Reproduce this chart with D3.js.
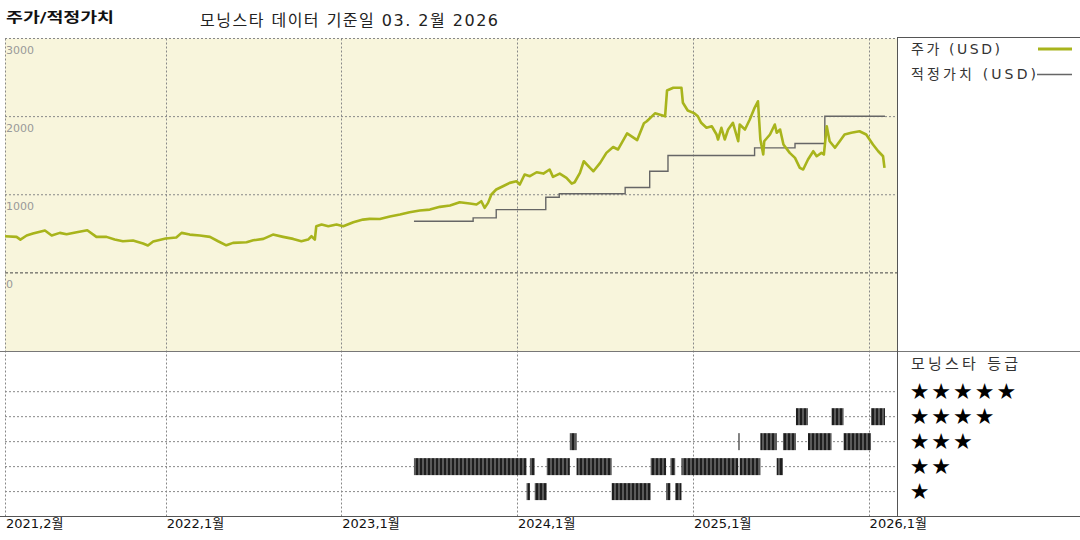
<!DOCTYPE html>
<html><head><meta charset="utf-8">
<script src="https://cdn.jsdelivr.net/npm/d3@7"></script>
<style>body{margin:0;background:#fff}svg{display:block}</style>
</head><body>
<svg id="c" width="1080" height="540"></svg>
<script>
const priceDates = ["2021-02-01","2021-02-25","2021-03-05","2021-03-18","2021-03-31","2021-04-25","2021-05-09","2021-05-26","2021-06-09","2021-06-30","2021-07-22","2021-08-10","2021-08-31","2021-09-17","2021-10-04","2021-10-25","2021-11-15","2021-11-25","2021-12-06",
"2022-01-01","2022-01-23","2022-02-03","2022-02-20","2022-03-13","2022-04-03","2022-04-20","2022-05-07","2022-05-21","2022-06-18","2022-07-02","2022-07-23","2022-08-12","2022-09-02","2022-09-23","2022-10-10","2022-10-24","2022-10-31","2022-11-07","2022-11-10","2022-11-21","2022-12-05","2022-12-22",
"2023-01-05","2023-01-26","2023-02-15","2023-03-01","2023-03-22","2023-04-12","2023-05-03","2023-05-23","2023-06-13","2023-07-04","2023-07-25","2023-08-15","2023-09-04","2023-09-25","2023-10-09","2023-10-19","2023-10-26","2023-11-02","2023-11-09","2023-11-19","2023-12-03","2023-12-17","2023-12-31",
"2024-01-07","2024-01-17","2024-01-28","2024-02-11","2024-02-25","2024-03-09","2024-03-16","2024-03-30","2024-04-13","2024-04-24","2024-04-30","2024-05-11","2024-05-19","2024-06-01","2024-06-08","2024-06-22","2024-07-05","2024-07-19","2024-07-29","2024-08-17","2024-09-07","2024-09-21","2024-09-27","2024-10-14","2024-11-04","2024-11-08","2024-11-21","2024-12-08","2024-12-11","2024-12-21",
"2025-01-03","2025-01-11","2025-01-18","2025-01-29","2025-02-09","2025-02-19","2025-02-22","2025-03-01","2025-03-08","2025-03-15","2025-03-25","2025-04-05","2025-04-08","2025-04-19","2025-04-29","2025-05-09","2025-05-16","2025-05-21","2025-05-27","2025-05-29","2025-06-10","2025-06-20","2025-06-24","2025-07-01","2025-07-08","2025-07-21","2025-08-01","2025-08-11","2025-08-18","2025-08-28","2025-09-08","2025-09-15","2025-09-25","2025-09-30","2025-10-06","2025-10-12","2025-10-23","2025-11-02","2025-11-12","2025-11-26","2025-12-13","2025-12-27",
"2026-01-10","2026-01-21","2026-01-31","2026-02-03"];
const priceValues = [469,461,426,478,503,542,478,512,494,520,545,461,461,426,405,414,375,350,401,
439,452,512,490,478,461,405,353,384,392,417,435,490,461,435,405,426,469,426,597,618,597,618,
597,648,682,691,689,721,746,776,798,810,845,862,904,887,875,917,832,896,1003,1067,1109,1152,1173,
1131,1259,1237,1288,1271,1323,1229,1271,1216,1143,1160,1280,1429,1344,1301,1408,1536,1611,1579,1786,1700,1915,1941,2042,2004,2334,2369,2369,2177,2078,
2045,2005,1921,1857,1877,1771,1707,1857,1707,1835,1921,1685,1899,1835,1963,2113,2197,1707,1515,1685,1771,1899,1793,1835,1643,1536,1472,1344,1323,1451,1557,1493,1536,1515,1877,1685,1601,1685,1771,1793,1813,1771,
1643,1557,1493,1344];

const fairDates = ["2023-06-01","2023-10-02","2023-11-19","2024-03-01","2024-03-29","2024-08-13","2024-10-03","2024-11-10","2025-05-09","2025-08-01","2025-10-02","2026-02-04"];
const fairValues = [661,704,810,968,1012,1092,1301,1502,1600,1656,2005,2005];

const ratingStart = ["2023-06-01","2024-01-21","2024-01-28","2024-02-07","2024-03-03","2024-04-20","2024-05-04","2024-07-16","2024-10-05","2024-11-06","2024-11-15","2024-11-25","2024-12-08","2025-04-05","2025-04-08","2025-05-21","2025-06-24","2025-07-07","2025-08-03","2025-08-28","2025-10-16","2025-11-10","2026-01-06"];
const ratingEnd   = ["2024-01-21","2024-01-28","2024-02-07","2024-03-03","2024-04-20","2024-05-04","2024-07-16","2024-10-05","2024-11-06","2024-11-15","2024-11-25","2024-12-08","2025-04-05","2025-04-08","2025-05-21","2025-06-24","2025-07-07","2025-08-03","2025-08-28","2025-10-16","2025-11-10","2026-01-06","2026-02-04"];
const ratingStars = [2,1,2,1,2,3,2,1,2,1,2,1,2,3,2,3,2,3,4,3,4,3,4];

const yTicks = [3000,2000,1000,0];
const xTickDates = ["2021-02-01","2022-01-01","2023-01-01","2024-01-01","2025-01-01","2026-01-01"];
const xTickLabels = ["2021,2월","2022,1월","2023,1월","2024,1월","2025,1월","2026,1월"];
const ratingLevels = [5,4,3,2,1];

const FONT = "'DejaVu Sans','Noto Sans CJK KR',sans-serif";
const parse = d3.utcParse("%Y-%m-%d");
const svg = d3.select("#c");
const L = 5, R = 897, T = 38.5, B1 = 351, B2 = 516, W = 1080;

const x = d3.scaleUtc().domain([parse("2021-02-01"), parse("2026-03-01")]).range([L, R]);
const y = d3.scaleLinear().domain([-1000, 3000]).range([B1, T]);
const yr = d3.scaleLinear().domain([5, 1]).range([391.7, 491.6]);

svg.append("rect").attr("width", W).attr("height", 540).attr("fill", "#fff");
const defs = svg.append("defs");
const pat = defs.append("pattern").attr("id", "hatch").attr("patternUnits", "userSpaceOnUse")
  .attr("width", 4).attr("height", 30);
pat.append("rect").attr("width", 4).attr("height", 30).attr("fill", "#5a5a5a");
pat.append("rect").attr("width", 2).attr("height", 30).attr("fill", "#1e1e1e");

// yellow plot background
svg.append("rect").attr("x", L).attr("y", T).attr("width", R - L).attr("height", B1 - T).attr("fill", "#f8f5dc");

// horizontal gridlines
svg.append("g").selectAll("line").data(yTicks).join("line")
  .attr("x1", L).attr("x2", R).attr("y1", d => y(d)).attr("y2", d => y(d))
  .attr("stroke", d => d === 0 ? "#444" : "#888").attr("stroke-width", 1)
  .attr("stroke-dasharray", d => d === 0 ? "3,2" : "2,2");
svg.append("g").selectAll("text").data(yTicks).join("text")
  .attr("x", 6).attr("y", d => y(d) + 15.5).text(d => d)
  .attr("font-family", FONT).attr("font-size", 11).attr("fill", "#999");

// rating gridlines
svg.append("g").selectAll("line").data(ratingLevels).join("line")
  .attr("x1", L).attr("x2", R).attr("y1", d => yr(d)).attr("y2", d => yr(d))
  .attr("stroke", "#888").attr("stroke-dasharray", "2,2");

// vertical gridlines
svg.append("g").selectAll("line").data(xTickDates).join("line")
  .attr("x1", d => Math.round(x(parse(d))) + 0.5).attr("x2", d => Math.round(x(parse(d))) + 0.5)
  .attr("y1", T).attr("y2", B2)
  .attr("stroke", "#888").attr("stroke-dasharray", "2,2");

// rating bars
svg.append("g").selectAll("rect").data(ratingStars.map((s, i) => ({s, a: parse(ratingStart[i]), b: parse(ratingEnd[i])}))).join("rect")
  .attr("x", d => x(d.a)).attr("width", d => Math.max(1.5, x(d.b) - x(d.a)))
  .attr("y", d => yr(d.s) - 8.5).attr("height", 17)
  .attr("fill", "url(#hatch)");

// fair value line
const fair = fairDates.map((d, i) => ({d: parse(d), v: fairValues[i]}));
svg.append("path").datum(fair)
  .attr("d", d3.line().x(d => x(d.d)).y(d => y(d.v)).curve(d3.curveStepAfter))
  .attr("fill", "none").attr("stroke", "#666").attr("stroke-width", 1.4);

// price line
const price = priceDates.map((d, i) => ({d: parse(d), v: priceValues[i]}));
svg.append("path").datum(price)
  .attr("d", d3.line().x(d => x(d.d)).y(d => y(d.v)))
  .attr("fill", "none").attr("stroke", "#a8b41c").attr("stroke-width", 2.6)
  .attr("stroke-linejoin", "round");

// frame lines
const frame = svg.append("g").attr("stroke", "#555").attr("stroke-width", 1);
frame.append("line").attr("x1", R).attr("x2", W).attr("y1", 37.5).attr("y2", 37.5);
frame.append("line").attr("x1", 0).attr("x2", W).attr("y1", B1 + 0.5).attr("y2", B1 + 0.5).attr("stroke", "#777");
frame.append("line").attr("x1", 0).attr("x2", W).attr("y1", B2 + 0.5).attr("y2", B2 + 0.5);
frame.append("line").attr("x1", R + 0.5).attr("x2", R + 0.5).attr("y1", 37.5).attr("y2", B2);

// x labels
svg.append("g").selectAll("text").data(xTickDates).join("text")
  .attr("x", d => x(parse(d)) + 1).attr("y", 528).text((d, i) => xTickLabels[i])
  .attr("font-family", FONT).attr("font-size", 13).attr("fill", "#111");

// titles
svg.append("text").attr("x", 6).attr("y", 22).text("주가/적정가치")
  .attr("font-family", FONT).attr("font-size", 14).attr("font-weight", "bold").attr("fill", "#111")
  .attr("textLength", 108).attr("lengthAdjust", "spacingAndGlyphs");
svg.append("text").attr("x", 200).attr("y", 26).text("모닝스타 데이터 기준일 03. 2월 2026")
  .attr("font-family", FONT).attr("font-size", 16).attr("fill", "#222")
  .attr("textLength", 298).attr("lengthAdjust", "spacing");

// legend
svg.append("text").attr("x", 911).attr("y", 54).text("주가 (USD)")
  .attr("font-family", FONT).attr("font-size", 14).attr("fill", "#333")
  .attr("textLength", 89).attr("lengthAdjust", "spacing");
svg.append("line").attr("x1", 1038).attr("x2", 1072).attr("y1", 49).attr("y2", 49)
  .attr("stroke", "#a8b41c").attr("stroke-width", 3);
svg.append("text").attr("x", 911).attr("y", 79).text("적정가치 (USD)")
  .attr("font-family", FONT).attr("font-size", 14).attr("fill", "#333")
  .attr("textLength", 125).attr("lengthAdjust", "spacing");
svg.append("line").attr("x1", 1037).attr("x2", 1072).attr("y1", 74.5).attr("y2", 74.5)
  .attr("stroke", "#666").attr("stroke-width", 1.4);

svg.append("text").attr("x", 911).attr("y", 369).text("모닝스타 등급")
  .attr("font-family", FONT).attr("font-size", 15).attr("fill", "#333")
  .attr("textLength", 107).attr("lengthAdjust", "spacing");

// star legend
const starData = [];
ratingLevels.forEach(r => { for (let i = 0; i < r; i++) starData.push({r, i}); });
svg.append("g").selectAll("text").data(starData).join("text")
  .attr("x", d => 919.5 + d.i * 21.7).attr("y", d => yr(d.r) + 7.5)
  .attr("text-anchor", "middle").text("★")
  .attr("font-family", FONT).attr("font-size", 22).attr("fill", "#000");
</script>
</body></html>
